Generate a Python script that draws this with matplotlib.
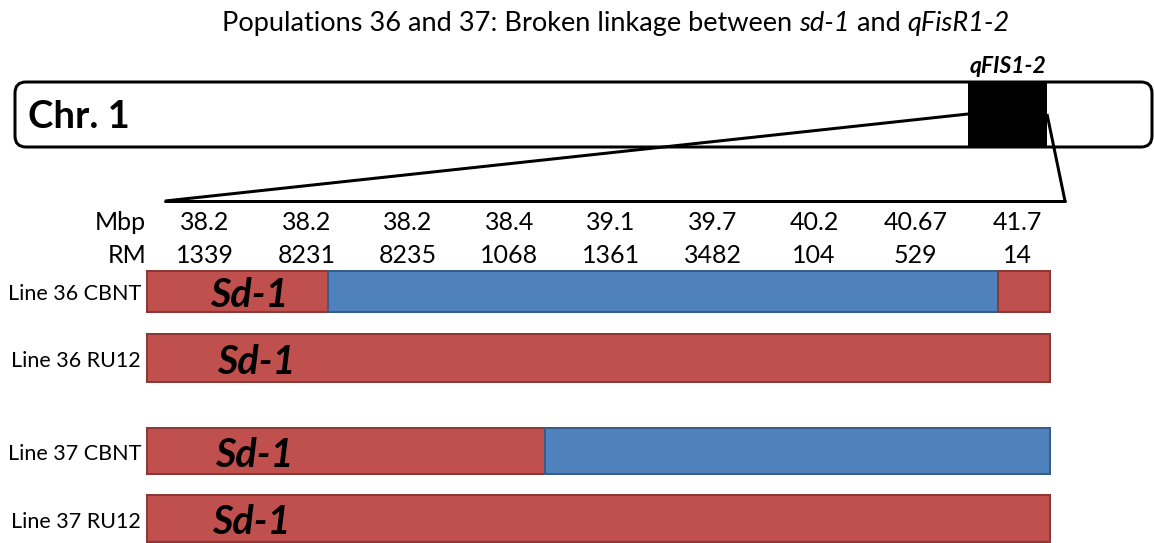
import matplotlib
matplotlib.use("Agg")
import matplotlib.pyplot as plt
from matplotlib.patches import FancyBboxPatch, Rectangle

plt.rcParams['font.family'] = ['Lato', 'DejaVu Sans']

# ---------------- data ----------------
title_pieces = [("Populations 36 and 37: Broken linkage between ", "normal"),
                ("sd-1", "italic"), (" and ", "normal"), ("qFisR1-2", "italic")]
chrom_label = "Chr. 1"
qtl_label = "qFIS1-2"
mbp_values = ["38.2", "38.2", "38.2", "38.4", "39.1", "39.7", "40.2", "40.67", "41.7"]
rm_markers = ["1339", "8231", "8235", "1068", "1361", "3482", "104", "529", "14"]
line_names = ["Line 36 CBNT", "Line 36 RU12", "Line 37 CBNT", "Line 37 RU12"]
# genotype blocks per line, in marker-index units (start, end, parent)
line_blocks = [
    [(-0.57, 1.21, "RU12"), (1.21, 7.81, "CBNT"), (7.81, 8.33, "RU12")],
    [(-0.57, 8.33, "RU12")],
    [(-0.57, 3.35, "RU12"), (3.35, 8.33, "CBNT")],
    [(-0.57, 8.33, "RU12")],
]
gene_label = "Sd-1"

# ---------------- style / layout ----------------
W, H = 1154, 543
face = {"RU12": "#C0504D", "CBNT": "#4F81BD"}
edge = {"RU12": "#8C3836", "CBNT": "#385D8A"}
row_y = [291, 357.5, 451, 518]
row_h = [41, 48, 46, 47]
gene_x = [0.44, 0.51, 0.49, 0.46]
marker_x0, marker_dx = 205, 101.5

fig = plt.figure(figsize=(W / 100, H / 100), dpi=100)
ax = fig.add_axes([0, 0, 1, 1])            # marker-index x scale, pixel y
ax.set_xlim(-marker_x0 / marker_dx, (W - marker_x0) / marker_dx)
ax.set_ylim(H, 0)
ax.axis("off")
axp = fig.add_axes([0, 0, 1, 1], sharey=ax)  # pixel overlay for the diagram
axp.set_xlim(0, W)
axp.axis("off")
axp.patch.set_alpha(0)

px = 72 / 100  # points per pixel
renderer = fig.canvas.get_renderer()

# title with mixed italic pieces, centred
texts = []
for s, st in title_pieces:
    texts.append(axp.text(0, 31, s, ha="left", va="baseline", fontsize=19.5,
                          fontstyle=st))
widths = [t.get_window_extent(renderer).width for t in texts]
x = 616 - sum(widths) / 2
for t, w in zip(texts, widths):
    t.set_x(x)
    x += w

# chromosome
chrom = FancyBboxPatch((15, 82), 1137, 65,
                       boxstyle="round,pad=0,rounding_size=11",
                       fc="white", ec="black", lw=3 * px, zorder=2)
axp.add_patch(chrom)
axp.add_patch(Rectangle((968, 82), 79, 65, fc="black", ec="black", lw=0, zorder=3))
axp.text(28, 117, chrom_label, ha="left", va="center", fontsize=27.5,
         fontweight="bold", zorder=4)
axp.text(1008, 73, qtl_label, ha="center", va="baseline", fontsize=16.5,
         fontweight="bold", fontstyle="italic", zorder=4)

# zoom lines
lw = 3 * px
axp.plot([165, 968], [201, 114], color="black", lw=lw, zorder=4,
         solid_capstyle="butt")
axp.plot([1047, 1065], [114, 201], color="black", lw=lw, zorder=4,
         solid_capstyle="butt")
axp.plot([165, 1065], [201, 201], color="black", lw=lw, zorder=4,
         solid_capstyle="round")

# marker labels
axp.text(146, 230, "Mbp", ha="right", va="baseline", fontsize=18)
axp.text(146, 263, "RM", ha="right", va="baseline", fontsize=18)
for i, (m, r) in enumerate(zip(mbp_values, rm_markers)):
    ax.text(i, 230, m, ha="center", va="baseline", fontsize=18)
    ax.text(i, 263, r, ha="center", va="baseline", fontsize=18)

# genotype bars
for name, blocks, y, h, gx in zip(line_names, line_blocks, row_y, row_h, gene_x):
    for (s, e, g) in blocks:
        ax.barh(y, e - s, left=s, height=h, color=face[g], edgecolor=edge[g],
                linewidth=2 * px, zorder=2)
    axp.text(141, y + 9.5, name, ha="right", va="baseline", fontsize=15.5)
    ax.text(gx, y + 16, gene_label, ha="center", va="baseline", fontsize=28.5,
            fontweight="bold", fontstyle="italic", zorder=5)

fig.savefig("out.png", dpi=100)
